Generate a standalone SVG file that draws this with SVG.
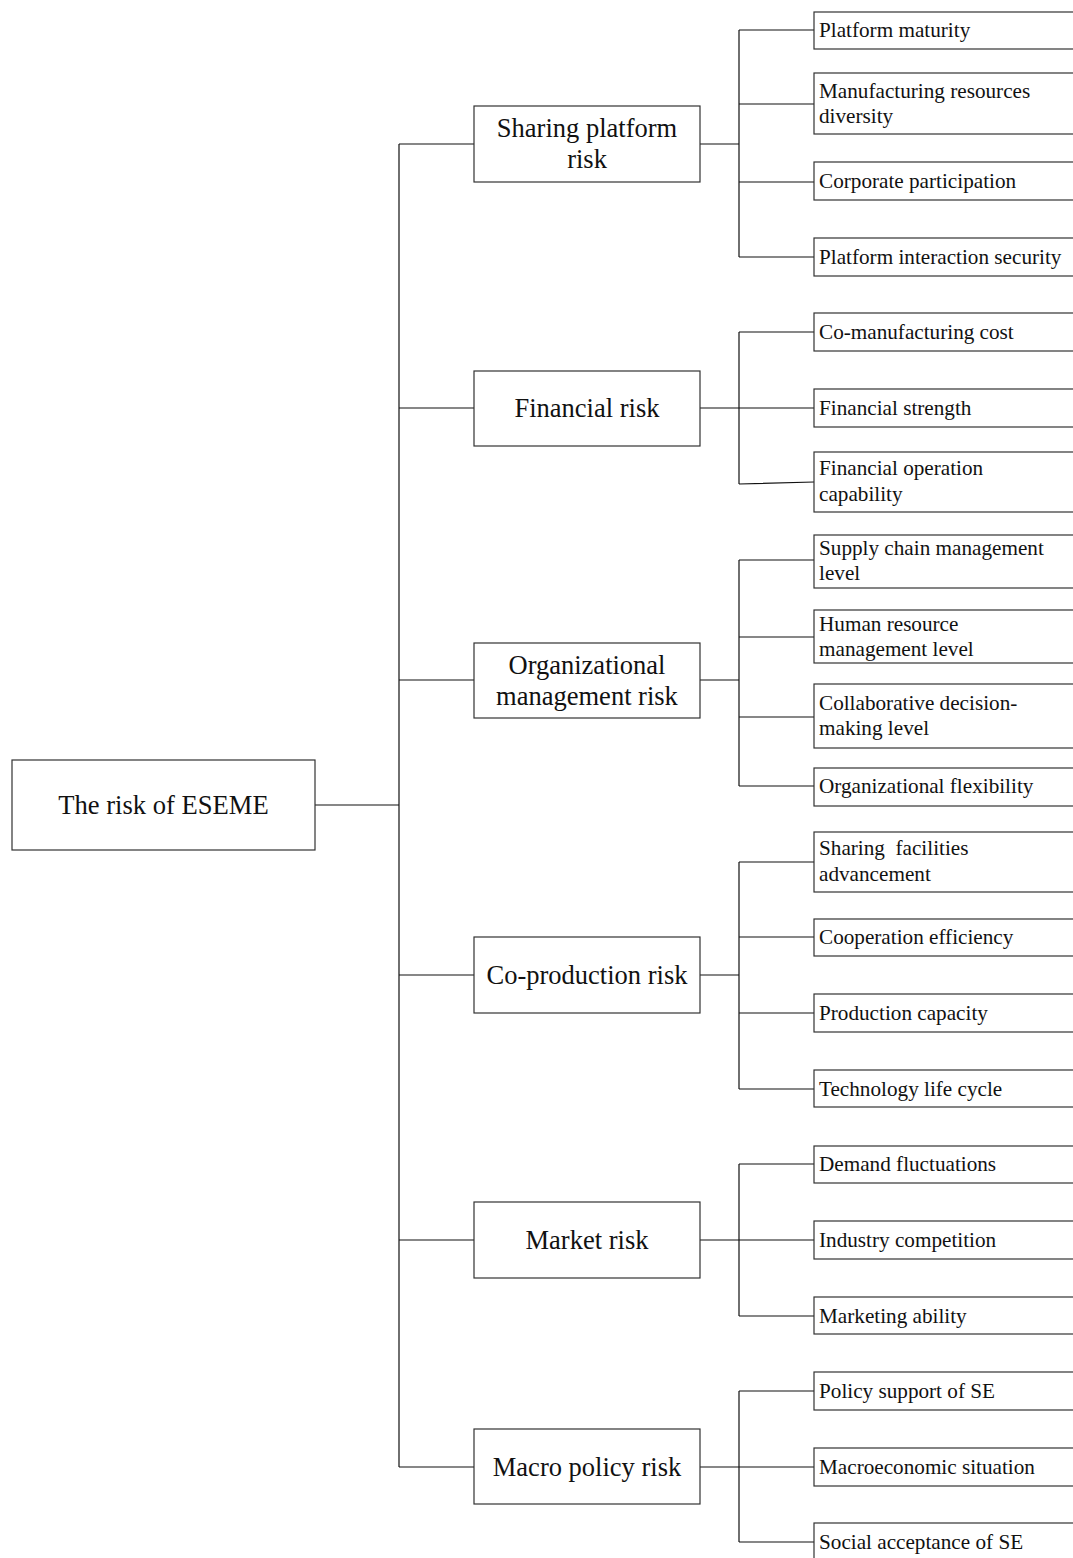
<svg xmlns="http://www.w3.org/2000/svg" width="1073" height="1558" viewBox="0 0 1073 1558">
<style>
.box{fill:#fff;stroke:#333;stroke-width:1.2}
.ln{fill:none;stroke:#111;stroke-width:1.2}
.t{font-family:"Liberation Serif","Times New Roman",serif;fill:#111}
.root{font-size:26.6px;text-anchor:middle}
.mid{font-size:26.5px;text-anchor:middle}
.leaf{font-size:21.2px}
</style>
<rect width="1073" height="1558" fill="#fff"/>
<g id="connectors">
<path class="ln" d="M315,805H399M399,144V1467M399,144H474M399,408H474M399,680H474M399,975H474M399,1240H474M399,1467H474"/>
<path class="ln" d="M697,144H739M739,30V257M739,30H814M739,104H814M739,182H814M739,257H814"/>
<path class="ln" d="M697,408H739M739,332V484M739,332H814M739,408H814M739,484L814,482"/>
<path class="ln" d="M697,680H739M739,560V786M739,560H814M739,637H814M739,717H814M739,786H814"/>
<path class="ln" d="M697,975H739M739,862V1089M739,862H814M739,937H814M739,1013H814M739,1089H814"/>
<path class="ln" d="M697,1240H739M739,1164V1316M739,1164H814M739,1240H814M739,1316H814"/>
<path class="ln" d="M697,1467H739M739,1391V1542M739,1391H814M739,1467H814M739,1542H814"/>
</g>
<g id="root"><rect class="box" x="12" y="760" width="303" height="90"/><text class="t root" x="163.5" y="814">The risk of ESEME</text></g>
<g id="m1"><rect class="box" x="474" y="106" width="226" height="76"/><text class="t mid" x="587" y="137">Sharing platform</text><text class="t mid" x="587" y="168">risk</text></g>
<g id="m2"><rect class="box" x="474" y="371" width="226" height="75"/><text class="t mid" x="587" y="417">Financial risk</text></g>
<g id="m3"><rect class="box" x="474" y="643" width="226" height="75"/><text class="t mid" x="587" y="674">Organizational</text><text class="t mid" x="587" y="705">management risk</text></g>
<g id="m4"><rect class="box" x="474" y="937" width="226" height="76"/><text class="t mid" x="587" y="984">Co-production risk</text></g>
<g id="m5"><rect class="box" x="474" y="1202" width="226" height="76"/><text class="t mid" x="587" y="1249">Market risk</text></g>
<g id="m6"><rect class="box" x="474" y="1429" width="226" height="75"/><text class="t mid" x="587" y="1476">Macro policy risk</text></g>
<g id="l1"><rect class="box" x="814" y="12" width="270" height="37"/><text class="t leaf" x="819" y="37">Platform maturity</text></g>
<g id="l2"><rect class="box" x="814" y="73" width="270" height="61"/><text class="t leaf" x="819" y="98">Manufacturing resources</text><text class="t leaf" x="819" y="123">diversity</text></g>
<g id="l3"><rect class="box" x="814" y="162" width="270" height="38"/><text class="t leaf" x="819" y="188">Corporate participation</text></g>
<g id="l4"><rect class="box" x="814" y="238" width="270" height="38"/><text class="t leaf" x="819" y="264">Platform interaction security</text></g>
<g id="l5"><rect class="box" x="814" y="313" width="270" height="38"/><text class="t leaf" x="819" y="339">Co-manufacturing cost</text></g>
<g id="l6"><rect class="box" x="814" y="389" width="270" height="38"/><text class="t leaf" x="819" y="415">Financial strength</text></g>
<g id="l7"><rect class="box" x="814" y="452" width="270" height="60"/><text class="t leaf" x="819" y="475">Financial operation</text><text class="t leaf" x="819" y="501">capability</text></g>
<g id="l8"><rect class="box" x="814" y="535" width="270" height="53"/><text class="t leaf" x="819" y="555">Supply chain management</text><text class="t leaf" x="819" y="580">level</text></g>
<g id="l9"><rect class="box" x="814" y="610" width="270" height="53"/><text class="t leaf" x="819" y="631">Human resource</text><text class="t leaf" x="819" y="656">management level</text></g>
<g id="l10"><rect class="box" x="814" y="684" width="270" height="64"/><text class="t leaf" x="819" y="710">Collaborative decision-</text><text class="t leaf" x="819" y="735">making level</text></g>
<g id="l11"><rect class="box" x="814" y="768" width="270" height="38"/><text class="t leaf" x="819" y="793">Organizational flexibility</text></g>
<g id="l12"><rect class="box" x="814" y="832" width="270" height="60"/><text class="t leaf" x="819" y="855" xml:space="preserve">Sharing  facilities</text><text class="t leaf" x="819" y="881">advancement</text></g>
<g id="l13"><rect class="box" x="814" y="919" width="270" height="37"/><text class="t leaf" x="819" y="944">Cooperation efficiency</text></g>
<g id="l14"><rect class="box" x="814" y="994" width="270" height="38"/><text class="t leaf" x="819" y="1020">Production capacity</text></g>
<g id="l15"><rect class="box" x="814" y="1070" width="270" height="37"/><text class="t leaf" x="819" y="1096">Technology life cycle</text></g>
<g id="l16"><rect class="box" x="814" y="1146" width="270" height="37"/><text class="t leaf" x="819" y="1171">Demand fluctuations</text></g>
<g id="l17"><rect class="box" x="814" y="1221" width="270" height="38"/><text class="t leaf" x="819" y="1247">Industry competition</text></g>
<g id="l18"><rect class="box" x="814" y="1297" width="270" height="37"/><text class="t leaf" x="819" y="1323">Marketing ability</text></g>
<g id="l19"><rect class="box" x="814" y="1372" width="270" height="38"/><text class="t leaf" x="819" y="1398">Policy support of SE</text></g>
<g id="l20"><rect class="box" x="814" y="1448" width="270" height="38"/><text class="t leaf" x="819" y="1474">Macroeconomic situation</text></g>
<g id="l21"><rect class="box" x="814" y="1523" width="270" height="50"/><text class="t leaf" x="819" y="1549">Social acceptance of SE</text></g>
</svg>
